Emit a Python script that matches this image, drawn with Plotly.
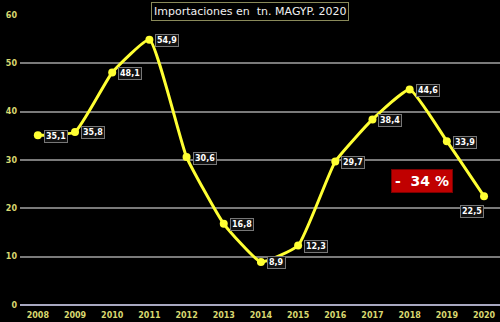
import plotly.graph_objects as go

years = [2008, 2009, 2010, 2011, 2012, 2013, 2014, 2015, 2016, 2017, 2018, 2019, 2020]
values = [35.1, 35.8, 48.1, 54.9, 30.6, 16.8, 8.9, 12.3, 29.7, 38.4, 44.6, 33.9, 22.5]
labels = [f"{v:.1f}".replace(".", ",") for v in values]
y_ticks = [0, 10, 20, 30, 40, 50, 60]

fig = go.Figure()
fig.add_trace(go.Scatter(
    x=years, y=values, mode="lines+markers",
    line=dict(color="#ffff33", width=3, shape="spline", smoothing=0.4),
    marker=dict(color="#ffff33", size=8),
    hoverinfo="skip",
))

for i, (x, y, t) in enumerate(zip(years, values, labels)):
    if i == len(years) - 1:
        fig.add_annotation(x=x, y=y, text=t, showarrow=False, xanchor="right", yanchor="top",
                           xshift=0, yshift=-9,
                           font=dict(family="DejaVu Sans", size=8, color="white", weight="bold"),
                           bgcolor="#111111", bordercolor="#777777", borderwidth=1, borderpad=1)
    else:
        fig.add_annotation(x=x, y=y, text=t, showarrow=False, xanchor="left", yanchor="middle",
                           xshift=6, yshift=-1,
                           font=dict(family="DejaVu Sans", size=8, color="white", weight="bold"),
                           bgcolor="#111111", bordercolor="#777777", borderwidth=1, borderpad=1)

# title box
fig.add_annotation(xref="paper", yref="paper", x=0.479, y=1.0, yshift=4, text="Importaciones en  tn. MAGYP. 2020",
                   showarrow=False, xanchor="center", yanchor="middle",
                   font=dict(family="DejaVu Sans", size=11, color="#f0f0f0"),
                   bgcolor="#000000", bordercolor="#8a8a5a", borderwidth=1, borderpad=2)

# -34% box
fig.add_annotation(x=2018.33, y=25.6, text="-  34 %", showarrow=False, xanchor="center", yanchor="middle",
                   font=dict(family="DejaVu Sans", size=14, color="white", weight="bold"),
                   bgcolor="#c00000", bordercolor="#7a0000", borderwidth=1, borderpad=3)

fig.update_layout(
    width=500, height=322,
    margin=dict(l=20, r=0, t=15, b=17),
    paper_bgcolor="#000000", plot_bgcolor="#000000",
    showlegend=False,
    xaxis=dict(range=[2007.52, 2020.43], tickvals=years, ticktext=[str(y) for y in years],
               showgrid=False, zeroline=False, showline=False,
               tickfont=dict(family="DejaVu Sans", size=8, color="#d8d870", weight="bold"),
               ticklen=0, ticklabelstandoff=4),
    yaxis=dict(range=[0, 60], tickvals=y_ticks, showgrid=True, gridcolor="#7a7a7a", gridwidth=1.5,
               zeroline=True, zerolinecolor="#a8a8c0", zerolinewidth=2,
               tickfont=dict(family="DejaVu Sans", size=8, color="#d8d870", weight="bold"),
               ticklen=0, ticklabelstandoff=2),
)

fig.write_html("out.html")
